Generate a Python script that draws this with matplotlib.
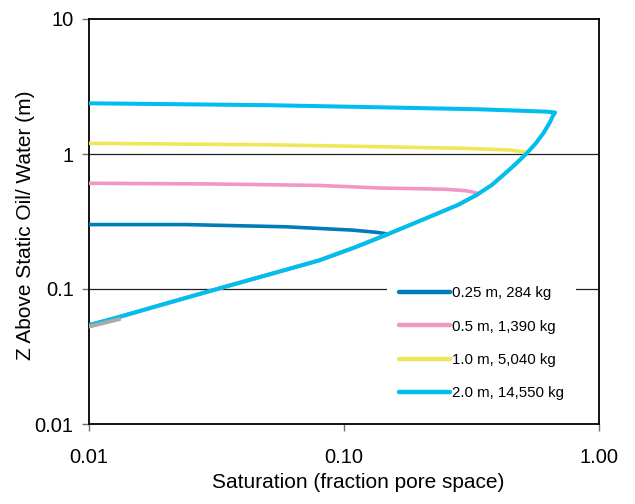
import matplotlib
matplotlib.use('Agg')
import matplotlib.pyplot as plt

plt.rcParams['font.family'] = ['Liberation Sans', 'DejaVu Sans']

# capillary curve (saturation vs height above free water)
cap_s = [0.010, 0.0131, 0.020, 0.0324, 0.050, 0.080, 0.110, 0.145, 0.217, 0.280, 0.331,
         0.380, 0.4215, 0.470, 0.5206, 0.565, 0.6048, 0.640, 0.662, 0.672]
cap_z = [0.054, 0.062, 0.078, 0.101, 0.127, 0.163, 0.203, 0.250, 0.343, 0.420, 0.497,
         0.590, 0.699, 0.840, 1.012, 1.200, 1.423, 1.700, 1.945, 2.020]

# column-top part of each curve, from the join point back to the left edge
top_s_025 = [0.146, 0.134, 0.108, 0.059, 0.024, 0.010]
top_z_025 = [0.257, 0.263, 0.273, 0.289, 0.300, 0.300]
top_s_05 = [0.331, 0.300, 0.250, 0.138, 0.080, 0.030, 0.010]
top_z_05 = [0.515, 0.535, 0.548, 0.560, 0.585, 0.600, 0.607]
top_s_10 = [0.5206, 0.450, 0.300, 0.138, 0.050, 0.010]
top_z_10 = [1.030, 1.070, 1.100, 1.133, 1.170, 1.200]
top_s_20 = [0.672, 0.620, 0.341, 0.138, 0.050, 0.010]
top_z_20 = [2.030, 2.060, 2.143, 2.218, 2.300, 2.375]

gray_s = [0.010, 0.0131]
gray_z = [0.0526, 0.0597]

labels = ['0.25 m, 284 kg', '0.5 m, 1,390 kg', '1.0 m, 5,040 kg', '2.0 m, 14,550 kg']
colors = ['#007db9', '#f296c3', '#f0e65a', '#00bef0']
widths = [2.6, 2.6, 2.6, 2.9]
tops = [(top_s_025, top_z_025), (top_s_05, top_z_05), (top_s_10, top_z_10), (top_s_20, top_z_20)]

fig = plt.figure(figsize=(6.35, 5.04), dpi=100)
ax = fig.add_axes([89/635, 1-424/504, 510/635, 405/504])

for (ts, tz), lab, col, w in zip(tops, labels, colors, widths):
    xs = [s for s in cap_s if s <= ts[0]]
    zs = cap_z[:len(xs)]
    ax.plot(xs + ts, zs + tz, color=col, lw=w, label=lab, solid_capstyle='round',
            solid_joinstyle='round', zorder=3)

ax.plot(gray_s, gray_z, color='#aaaaaa', lw=2.8, zorder=4)

ax.set_xscale('log')
ax.set_yscale('log')
ax.set_xlim(0.01, 1.0)
ax.set_ylim(0.01, 10)
ax.set_xticks([0.01, 0.1, 1.0])
ax.set_xticklabels(['0.01', '0.10', '1.00'])
ax.set_yticks([0.01, 0.1, 1, 10])
ax.set_yticklabels(['0.01', '0.1', '1', '10'])
ax.minorticks_off()
ax.tick_params(axis='both', labelsize=14.5, length=5, width=1, direction='out', color='#707070')
ax.tick_params(axis='x', pad=12)
ax.tick_params(axis='y', pad=6)
for y in [0.1, 1]:
    ax.axhline(y, color='#202020', lw=0.9, zorder=1)
for sp in ax.spines.values():
    sp.set_linewidth(1.3)

ax.set_xlabel('Saturation (fraction pore space)', fontsize=15)
ax.set_ylabel('Z Above Static Oil/ Water (m)', fontsize=15)
ax.xaxis.set_label_coords(0.528, -0.12)
ax.yaxis.set_label_coords(-0.106, 0.49)

leg = ax.legend(loc='upper left', bbox_to_anchor=(0.584, 0.37), fontsize=10.8, handlelength=3.4,
                handletextpad=0.15, labelspacing=1.29, frameon=True, fancybox=False,
                edgecolor='none', framealpha=1, borderpad=0.8, borderaxespad=0)
for h in leg.get_lines():
    h.set_linewidth(3.2)

fig.savefig('out.png', dpi=100)
